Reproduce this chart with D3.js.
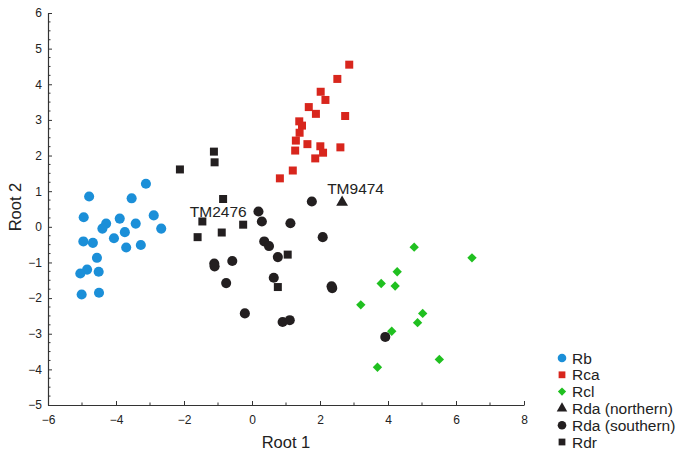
<!DOCTYPE html>
<html>
<head>
<meta charset="utf-8">
<script src="https://cdn.jsdelivr.net/npm/d3@7/dist/d3.min.js"></script>
<style>
  html, body { margin: 0; padding: 0; background: #fff; }
  svg { display: block; font-family: "Liberation Sans", Arial, Helvetica, sans-serif; }
</style>
</head>
<body>
<svg id="chart" width="683" height="457"></svg>
<script>
// ---- Data ----
const rbX = [-3.12,-4.79,-3.54,-4.95,-2.89,-3.89,-4.29,-4.40,-3.42,-2.67,-3.74,-4.06,-4.96,-4.68,-3.70,-3.27,-4.56,-4.85,-5.05,-4.51,-5.01,-4.50];
const rbY = [1.21,0.85,0.80,0.27,0.32,0.23,0.09,-0.05,0.09,-0.05,-0.15,-0.32,-0.41,-0.45,-0.58,-0.51,-0.87,-1.20,-1.31,-1.26,-1.90,-1.85];

const rcaX = [2.86,2.51,2.02,2.16,1.67,1.88,2.74,1.39,1.47,1.40,1.29,1.63,2.01,2.60,1.27,2.09,1.86,1.20,0.82];
const rcaY = [4.55,4.15,3.79,3.56,3.36,3.17,3.11,2.96,2.84,2.64,2.42,2.32,2.26,2.23,2.14,2.08,1.92,1.58,1.36];

const rclX = [4.77,6.47,4.27,3.80,4.21,3.20,5.02,4.87,4.11,5.51,3.69];
const rclY = [-0.57,-0.87,-1.26,-1.59,-1.66,-2.19,-2.43,-2.69,-2.93,-3.72,-3.94];

const rdaNX = [2.65];
const rdaNY = [0.69];

const rdaSX = [1.76,0.19,0.29,1.13,2.08,0.36,0.50,0.76,-0.58,-1.11,-1.10,0.64,-0.76,2.34,2.36,-0.21,0.90,1.11,3.92];
const rdaSY = [0.71,0.43,0.15,0.10,-0.29,-0.41,-0.54,-0.85,-0.96,-1.03,-1.11,-1.43,-1.58,-1.67,-1.72,-2.43,-2.67,-2.62,-3.09];

const rdrX = [-1.12,-1.10,-2.12,-0.85,-1.46,-0.26,-0.89,-1.60,1.05,0.76];
const rdrY = [2.11,1.81,1.61,0.78,0.15,0.06,-0.16,-0.29,-0.78,-1.69];

const annotations = [
  {label: "TM2476", x: -1.83, y: 0.28},
  {label: "TM9474", x: 2.21, y: 0.91}
];

const xTicks = [-6,-4,-2,0,2,4,6,8];
const yTicks = [-5,-4,-3,-2,-1,0,1,2,3,4,5,6];

const series = [
  {name: "Rb", xs: rbX, ys: rbY, shape: "circle", color: "#1b8fd8"},
  {name: "Rca", xs: rcaX, ys: rcaY, shape: "square", color: "#d8261d"},
  {name: "Rcl", xs: rclX, ys: rclY, shape: "diamond", color: "#20c020"},
  {name: "Rda (northern)", xs: rdaNX, ys: rdaNY, shape: "triangle", color: "#231f20"},
  {name: "Rda (southern)", xs: rdaSX, ys: rdaSY, shape: "circle", color: "#231f20"},
  {name: "Rdr", xs: rdrX, ys: rdrY, shape: "square", color: "#231f20"}
];

// ---- Layout ----
const svg = d3.select("#chart");
const mLeft = 48, mRight = 524, mTop = 13, mBottom = 405;
const x = d3.scaleLinear().domain([-6, 8]).range([mLeft, mRight]);
const y = d3.scaleLinear().domain([-5, 6]).range([mBottom, mTop]);

const bigSize = {circle: 80, square: 64, diamond: 44, triangle: 60};
const smallSize = {circle: 58, square: 46, diamond: 34, triangle: 48};
function symbolPath(shape, big) {
  const t = {circle: d3.symbolCircle, square: d3.symbolSquare, diamond: d3.symbolSquare, triangle: d3.symbolTriangle}[shape];
  return d3.symbol().type(t).size((big ? bigSize : smallSize)[shape])();
}
function rot(shape) { return shape === "diamond" ? " rotate(45)" : ""; }

// axes
const xAxis = d3.axisBottom(x).tickValues(xTicks).tickSizeInner(-4).tickSizeOuter(0).tickFormat(d3.format("d"));
const gx = svg.append("g").attr("transform", `translate(0,${mBottom})`).call(xAxis);
const yAxis = d3.axisLeft(y).tickValues(yTicks).tickSizeInner(-4).tickSizeOuter(0).tickFormat(d3.format("d"));
const gy = svg.append("g").attr("transform", `translate(${mLeft},0)`).call(yAxis);

// minor ticks
const xMinor = d3.range(-5, 8, 2);
svg.append("g").selectAll("line").data(xMinor).join("line")
  .attr("x1", d => x(d)).attr("x2", d => x(d)).attr("y1", mBottom).attr("y2", mBottom - 2.5)
  .attr("stroke", "#333").attr("stroke-width", 1);
const yMinor = d3.range(-5, 6.001, 0.25).filter(v => Math.abs(v - Math.round(v)) > 1e-6);
svg.append("g").selectAll("line").data(yMinor).join("line")
  .attr("x1", mLeft).attr("x2", mLeft + 2.5).attr("y1", d => y(d)).attr("y2", d => y(d))
  .attr("stroke", "#333").attr("stroke-width", 1);

[gx, gy].forEach(g => {
  g.select(".domain").attr("stroke", "#333").attr("stroke-width", 1.2);
  g.selectAll(".tick line").attr("stroke", "#333");
  g.selectAll(".tick text").attr("fill", "#222").style("font-size", "12px")
   .style("font-family", '"Liberation Sans", Arial, sans-serif');
});
gx.selectAll(".tick text").attr("y", 10).attr("dy", "0.71em");
gy.selectAll(".tick text").attr("x", -6);

// axis titles
svg.append("text").attr("x", 286).attr("y", 448).attr("text-anchor", "middle")
  .style("font-size", "16.5px").attr("fill", "#222").text("Root 1");
svg.append("text").attr("transform", `translate(21,207) rotate(-90)`)
  .attr("text-anchor", "middle").style("font-size", "16.5px").attr("fill", "#222").text("Root 2");

// points
series.forEach(s => {
  const pts = s.xs.map((v, i) => [v, s.ys[i]]);
  svg.append("g").selectAll("path").data(pts).join("path")
    .attr("d", symbolPath(s.shape, true))
    .attr("transform", d => `translate(${x(d[0])},${y(d[1])})${rot(s.shape)}`)
    .attr("fill", s.color);
});

// annotations
svg.append("g").selectAll("text").data(annotations).join("text")
  .attr("x", d => x(d.x)).attr("y", d => y(d.y))
  .style("font-size", "15.5px").attr("fill", "#222").text(d => d.label);

// legend
const lg = svg.append("g");
series.forEach((s, i) => {
  const cy = 358 + i * 16.8;
  lg.append("path").attr("d", symbolPath(s.shape, false))
    .attr("transform", `translate(562,${cy})${rot(s.shape)}`).attr("fill", s.color);
  lg.append("text").attr("x", 572).attr("y", cy).attr("dy", "0.36em")
    .style("font-size", "15.5px").attr("fill", "#222").text(s.name);
});
</script>
</body>
</html>
